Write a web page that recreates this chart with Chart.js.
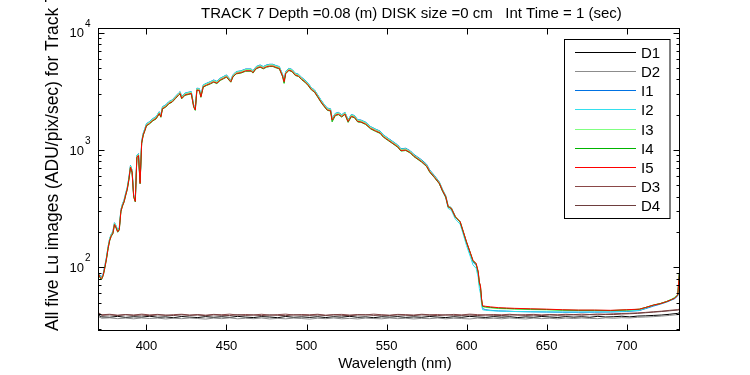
<!DOCTYPE html>
<html><head><meta charset="utf-8">
<script src="https://cdn.jsdelivr.net/npm/chart.js@4/dist/chart.umd.min.js"></script>
<style>html,body{margin:0;padding:0;background:#fff}#wrap{width:750px;height:375px;position:relative}</style>
</head><body><div id="wrap"><canvas id="c" width="750" height="375"></canvas></div>
<script>
// ---------- DATA ----------
const wavelengths = [
369,370,371,372,373,374,375,376,377,378,
379,380,381,382,383,384,385,386,387,388,
389,390,391,392,393,394,395,396,397,398,
399,400,402,404,406,408,409,410,412,414,
416,418,420,421,422,424,426,428,429.5,430.5,
431.5,433,434,435.5,437.5,440,442,444,446,448,
450,452.7,454,456,459,462,465.5,466.5,468.5,471,
473,475,477,479,481,483,485,486,487,489,
491,493,495,497,499,501,503,505,507,509,
511,513,515,516,518,520,522,524,526,528,
530,532,534,537,540,543,546,548,551,554,
557,559,562,565,567,569,572,575,577,580,
583,585,587,588.5,590.5,593,596,598,600,602.5,
604,606,607.3,608,608.7,609.4,610,612,615,620,
625,630,640,650,660,670,680,690,700,708,
712,717,721,725,728,730,732,733];

const I1 = [
92,90,85,83,89,104,122,150,176,192,
202,240,226,208,218,310,347,376,428,482,
580,740,672,414,378,900,932,538,1190,1398,
1522,1677,1750,1853,1925,2122,1988,2340,2422,2588,
2670,2857,3053,3146,2857,3053,3105,3146,2422,2277,
3364,3343,2939,3591,3705,3830,3954,3850,4088,4223,
4368,3954,4368,4658,4730,4906,4906,4730,5144,5310,
5144,5310,5382,5382,5237,5144,4425,3954,4668,4978,
4854,4513,4425,4150,3954,3705,3405,3250,2950,2670,
2453,2277,2246,1863,2054,2091,1998,2101,1811,2008,
1967,1811,1801,1725,1584,1511,1449,1346,1260,1180,
1104,1025,1035,981,920,880,823,757,676,605,
535,462,408,335,322,272,245,199,162,128,
111,104,88,71,66,51,44.5,43.5,43,42.5,
42.3,42,41.8,41.6,41.4,41.4,41.5,41.6,42,42.8,
44.5,46.8,48.5,50.5,52.5,54,57,87];

const I2 = [
91,89,84,82,88,103,121,149,175,191,
201,239,224,207,216,308,345,374,425,478,
576,735,668,412,376,895,926,535,1183,1389,
1512,1667,1740,1842,1914,2110,1976,2326,2408,2573,
2655,2840,3036,3128,2840,3036,3087,3128,2408,2264,
3345,3324,2922,3571,3684,3808,3931,3828,4065,4199,
4343,3931,4343,4631,4703,4878,4878,4703,5114,5279,
5114,5279,5351,5351,5207,5114,4399,3931,4641,4950,
4826,4487,4399,4126,3931,3684,3386,3231,2933,2655,
2439,2264,2233,1852,2042,2079,1986,2089,1801,1996,
1955,1801,1790,1715,1574,1502,1440,1338,1250,1170,
1095,1015,1022,968,905,862,805,738,657,588,
518,445,390,318,306,258,233,190,153,122,
105,98,82,66,60,49,43.5,43,42.7,42.4,
42.2,42,41.8,41.7,41.6,41.6,41.7,41.8,42.3,43,
45,47.5,49,51,53,55,58,89];

const I3 = [
91,89,83,81,87,102,120,148,174,190,
199,237,222,205,214,306,342,370,421,474,
571,729,663,408,372,887,918,530,1173,1377,
1499,1652,1724,1826,1897,2091,1958,2305,2387,2550,
2632,2815,3009,3101,2815,3009,3060,3101,2387,2244,
3315,3295,2897,3539,3652,3774,3896,3794,4029,4162,
4304,3896,4304,4590,4661,4835,4835,4661,5069,5233,
5069,5233,5304,5304,5161,5069,4360,3896,4600,4906,
4784,4447,4360,4090,3896,3652,3356,3203,2907,2632,
2417,2244,2213,1836,2025,2060,1969,2071,1785,1979,
1938,1785,1775,1700,1561,1489,1428,1326,1241,1163,
1088,1010,1020,967,907,867,811,746,666,597,
530,459,406,334,322,273,247,202,165,131,
113,106,90,73,68,52,46,45.5,45,44.5,
44.2,44,43.6,43.3,43,42.8,42.8,42.7,43.2,43.8,
45.5,47.8,49.2,51.2,53.5,55.5,59,90];

const I4 = [
89,87,81,79,85,99,117,144,168,184,
193,230,216,199,208,297,332,359,409,460,
554,708,643,396,361,861,891,515,1139,1337,
1455,1604,1673,1772,1841,2030,1900,2237,2317,2475,
2554,2732,2920,3010,2732,2920,2970,3010,2317,2178,
3218,3198,2812,3435,3544,3663,3782,3683,3911,4039,
4178,3782,4178,4455,4524,4693,4693,4524,4920,5079,
4920,5079,5148,5148,5009,4920,4232,3700,4465,4762,
4643,4316,4232,3970,3782,3544,3257,3109,2822,2554,
2346,2178,2148,1740,1965,2000,1911,2010,1720,1921,
1881,1733,1723,1650,1515,1445,1386,1287,1205,1129,
1056,980,990,939,880,842,787,724,646,580,
515,446,397,327,316,268,243,199,163,131,
114,107,91,74,69,53.5,46.5,46,45.5,44.9,
44.6,44.3,44,43.7,43.2,43,43,42.8,43.3,43.9,
45.5,47.7,49,51,53,54.8,58,89];

const I5 = [
90,88,82,80,86,100,118,145,170,186,
195,232,218,201,210,300,335,363,413,465,
560,715,650,400,365,870,900,520,1150,1350,
1470,1620,1690,1790,1860,2050,1920,2260,2340,2500,
2580,2760,2950,3040,2760,2950,3000,3040,2340,2200,
3250,3230,2840,3470,3580,3700,3820,3720,3950,4080,
4220,3820,4220,4500,4570,4740,4740,4570,4970,5130,
4970,5130,5200,5200,5060,4970,4275,3820,4510,4810,
4690,4360,4275,4010,3820,3580,3290,3140,2850,2580,
2370,2200,2170,1800,1985,2020,1930,2030,1750,1940,
1900,1750,1740,1667,1530,1460,1400,1300,1217,1140,
1067,990,1000,948,889,850,795,731,653,585,
520,450,400,329,318,270,245,201,165,132,
115,108,92,75,70,54,47,46.5,46,45.3,
45,44.7,44.3,44,43.5,43.2,43.2,43,43.5,44,
45.5,47.7,49,51,53,54.5,58,88];

const darkWavelengths = [
369,370,372,377,382,387,392,397,402,407,
412,417,422,427,432,437,442,447,452,457,
462,467,472,477,482,487,492,497,502,507,
512,517,522,527,532,537,542,547,552,557,
562,567,572,577,582,587,592,597,602,607,
612,617,622,627,632,637,642,647,652,657,
662,667,672,677,682,687,692,697,702,707,
712,717,722,727,732,733];

const D1 = [
46,39,37.8,37.5,38.2,37.4,37.9,37.6,38.3,37.5,
37.8,37.2,38.1,37.6,37.3,38,37.5,37.9,37.4,38.2,
37.6,37.3,38,37.7,37.2,38.1,37.5,37.8,37.4,37.9,
37.3,37.9,37.6,38.2,37.5,37.8,37.2,37.9,37.6,38,
37.4,37.8,37.5,38.1,37.6,37.3,37.9,37.5,38.2,37.7,
37.4,38,37.6,37.9,37.3,37.8,37.5,38.1,37.7,37.4,
38,37.6,37.9,37.5,38.2,37.7,37.9,38.3,37.8,38.4,
38.6,38.9,39.2,39.8,40.5,41];

const D2 = [
44,38,36.8,37.1,36.5,36.9,36.4,37,36.6,36.9,
36.3,36.8,36.5,37,36.6,36.2,36.9,36.5,37.1,36.4,
36.8,36.5,37,36.3,36.7,36.4,36.9,36.6,36.2,36.8,
36.5,37,36.4,36.7,36.3,36.9,36.6,36.4,37,36.5,
36.8,36.3,36.7,36.5,37,36.4,36.8,36.6,36.3,36.9,
36.5,36.8,36.4,37,36.6,36.3,36.9,36.5,36.8,36.4,
36.9,36.6,37,36.7,36.5,37.1,36.8,37.2,37,37.5,
37.7,38,38.4,38.9,39.5,40];

const D3 = [
51,41,39.4,39.8,39.1,39.6,39.2,39.9,39.3,39.7,
39,39.5,39.8,39.2,39.6,39.1,39.7,39.4,39.9,39.2,
39.6,39.3,39.8,39.1,39.5,39.9,39.2,39.6,39.4,39.8,
39.1,39.5,39.7,39.2,39.6,39.3,39.9,39.4,39.1,39.7,
39.5,39.2,39.8,39.4,39.6,39.1,39.7,39.3,39.9,39.5,
39.2,39.6,39.4,39.8,39.1,39.5,39.7,39.3,39.6,39.4,
39.8,39.5,39.9,39.6,40,39.8,40.2,40.4,40.6,40.9,
41.3,41.8,42.3,43,43.6,44];

const D4 = [
48,40.5,39,39.3,38.8,39.4,38.9,39.2,38.7,39.3,
39.1,38.8,39.4,38.9,39.2,38.7,39.3,39,38.8,39.4,
38.9,39.2,38.8,39.3,39,38.7,39.4,39.1,38.9,39.2,
38.8,39.3,39,38.7,39.2,39.4,38.9,39.1,38.8,39.3,
39,38.8,39.3,39.1,38.7,39.4,39,38.9,39.2,38.8,
39.3,39,38.8,39.2,39.4,38.9,39.1,38.8,39.3,39,
39.2,39.4,39.1,39.5,39.3,39.7,39.6,40,40.2,40.5,
41,41.5,42,42.6,43.2,43.5];

const seriesNames = ['D1','D2','I1','I2','I3','I4','I5','D3','D4'];
const xTickValues = [400,450,500,550,600,650,700];
const xTickLabels = ['400','450','500','550','600','650','700'];
const yTickExponents = [2,3,4];
const yTickBase = '10';
const yMinorMultipliers = [2,3,4,5,6,7,8,9];
const titleText = 'TRACK 7 Depth =0.08 (m) DISK size =0 cm   Int Time = 1 (sec)';
const xAxisTitle = 'Wavelength (nm)';
const yAxisTitle = 'All five Lu images (ADU/pix/sec) for Track 7';

// ---------- STYLE ----------
const colors = ['#000000','#8c8c8c','#0072e3','#33dfee','#80ff80','#00b400','#ff0000','#8a4848','#6e3e3e'];
const FONT = '"Liberation Sans", Arial, Helvetica, sans-serif';

function pts(xs, ys){ return xs.map((x,i)=>({x:x, y:ys[i]})); }
const seriesData = [pts(darkWavelengths,D1), pts(darkWavelengths,D2),
  pts(wavelengths,I1), pts(wavelengths,I2), pts(wavelengths,I3), pts(wavelengths,I4), pts(wavelengths,I5),
  pts(darkWavelengths,D3), pts(darkWavelengths,D4)];

const datasets = seriesNames.map((n,i)=>({
  label:n, data:seriesData[i], borderColor:colors[i], backgroundColor:colors[i],
  borderWidth:1, pointRadius:0, tension:0, fill:false,
  order: seriesNames.length - i
}));

const matlabPlugin = {
  id:'matlab',
  afterDraw(chart){
    const ctx = chart.ctx, a = chart.chartArea;
    const xs = chart.scales.x, ys = chart.scales.y;
    ctx.save();
    ctx.strokeStyle = '#000'; ctx.fillStyle = '#000'; ctx.lineWidth = 1;
    const L = a.left+0.5, R = a.right-0.5, T = a.top+0.5, B = a.bottom-0.5;
    ctx.strokeRect(L, T, R-L, B-T);
    ctx.beginPath();
    xTickValues.forEach(v=>{
      const px = Math.round(xs.getPixelForValue(v))+0.5;
      ctx.moveTo(px,B); ctx.lineTo(px,B-6);
      ctx.moveTo(px,T); ctx.lineTo(px,T+6);
    });
    const yMin = ys.min, yMax = ys.max;
    [1,2,3,4].forEach(e=>{
      [1].concat(yMinorMultipliers).forEach(m=>{
        const v = m*Math.pow(10,e);
        if (v < yMin || v > yMax) return;
        const py = Math.round(ys.getPixelForValue(v))+0.5;
        const len = (m===1)?6:3;
        ctx.moveTo(L,py); ctx.lineTo(L+len,py);
        ctx.moveTo(R,py); ctx.lineTo(R-len,py);
      });
    });
    ctx.stroke();
    ctx.font = '13px '+FONT; ctx.textAlign='center'; ctx.textBaseline='alphabetic';
    xTickValues.forEach((v,i)=>{
      ctx.fillText(xTickLabels[i], xs.getPixelForValue(v), 350);
    });
    yTickExponents.forEach(e=>{
      const py = ys.getPixelForValue(Math.pow(10,e));
      ctx.font = '13px '+FONT; ctx.textAlign='right';
      ctx.fillText(yTickBase, 84, py+4.5);
      ctx.font = '10px '+FONT; ctx.textAlign='left';
      ctx.fillText(String(e), 85, py-6);
    });
    ctx.font = '15px '+FONT; ctx.textAlign='left';
    ctx.fillText(titleText, 201, 18);
    ctx.textAlign='center';
    ctx.fillText(xAxisTitle, (a.left+a.right)/2+6, 368);
    ctx.save();
    ctx.translate(58, 331); ctx.rotate(-Math.PI/2);
    ctx.font = '17.5px '+FONT; ctx.textAlign='left';
    ctx.fillText(yAxisTitle, 0, 0);
    ctx.restore();
    // legend
    const bx=564.5, by=39.5, bw=105.5, bh=179;
    ctx.fillStyle='#fff'; ctx.fillRect(bx,by,bw,bh);
    ctx.strokeStyle='#000'; ctx.lineWidth=1; ctx.strokeRect(bx,by,bw,bh);
    ctx.font = '15px '+FONT; ctx.textAlign='left'; ctx.textBaseline='middle';
    chart.data.datasets.forEach((ds,i)=>{
      const y = Math.round(51.7 + i*19.2);
      ctx.fillStyle = colors[i];
      ctx.fillRect(575, y, 61, 1);
      ctx.fillStyle='#000';
      ctx.fillText(ds.label, 641, y+1.5);
    });
    ctx.restore();
  }
};

new Chart(document.getElementById('c'), {
  type:'line',
  data:{ datasets: datasets },
  options:{
    responsive:false, animation:false, devicePixelRatio:1,
    layout:{ padding:{ left:98, right:70, top:28, bottom:44 } },
    plugins:{ legend:{display:false}, title:{display:false}, tooltip:{enabled:false} },
    scales:{
      x:{ type:'linear', min:369.7, max:733.4, display:false },
      y:{ type:'logarithmic', min:28.65, max:10966, display:false }
    }
  },
  plugins:[matlabPlugin]
});
</script>
</body></html>
